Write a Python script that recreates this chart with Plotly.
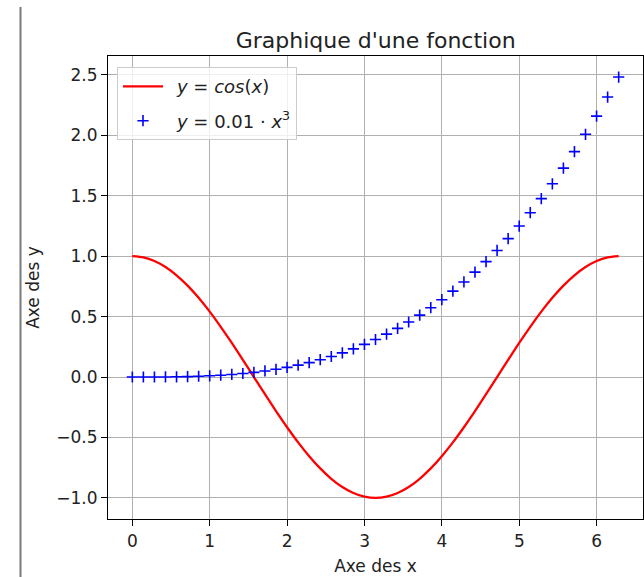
import plotly.graph_objects as go

# x samples (0 .. 2*pi, 45 points)
x_vals = [0.0000, 0.1428, 0.2856, 0.4284, 0.5712, 0.7140, 0.8568, 0.9996, 1.1424,
          1.2852, 1.4280, 1.5708, 1.7136, 1.8564, 1.9992, 2.1420, 2.2848, 2.4276,
          2.5704, 2.7132, 2.8560, 2.9988, 3.1416, 3.2844, 3.4272, 3.5700, 3.7128,
          3.8556, 3.9984, 4.1412, 4.2840, 4.4268, 4.5696, 4.7124, 4.8552, 4.9980,
          5.1408, 5.2836, 5.4264, 5.5692, 5.7120, 5.8548, 5.9976, 6.1404, 6.2832]

cos_vals = [1.0000, 0.9898, 0.9595, 0.9096, 0.8413, 0.7557, 0.6549, 0.5406, 0.4154,
            0.2817, 0.1423, 0.0000, -0.1423, -0.2817, -0.4154, -0.5406, -0.6549, -0.7557,
            -0.8413, -0.9096, -0.9595, -0.9898, -1.0000, -0.9898, -0.9595, -0.9096, -0.8413,
            -0.7557, -0.6549, -0.5406, -0.4154, -0.2817, -0.1423, 0.0000, 0.1423, 0.2817,
            0.4154, 0.5406, 0.6549, 0.7557, 0.8413, 0.9096, 0.9595, 0.9898, 1.0000]

cube_vals = [0.0000, 0.0000, 0.0002, 0.0008, 0.0019, 0.0036, 0.0063, 0.0100, 0.0149,
             0.0212, 0.0291, 0.0388, 0.0503, 0.0640, 0.0799, 0.0983, 0.1193, 0.1431,
             0.1698, 0.1997, 0.2330, 0.2697, 0.3101, 0.3543, 0.4026, 0.4550, 0.5118,
             0.5732, 0.6392, 0.7102, 0.7862, 0.8675, 0.9542, 1.0465, 1.1445, 1.2485,
             1.3586, 1.4750, 1.5979, 1.7273, 1.8637, 2.0069, 2.1574, 2.3152, 2.4805]

x_ticks = [0, 1, 2, 3, 4, 5, 6]
y_ticks = [-1.0, -0.5, 0.0, 0.5, 1.0, 1.5, 2.0, 2.5]
y_tick_text = ["\u22121.0", "\u22120.5", "0.0", "0.5", "1.0", "1.5", "2.0", "2.5"]

title_text = "Graphique d'une fonction"
x_label = "Axe des x"
y_label = "Axe des y"
name_cos = "\u2002<i>y</i> = <i>cos</i>(<i>x</i>)"
name_cube = "\u2002<i>y</i> = 0.01 \u00b7 <i>x</i><sup>3</sup>"

FONT = "DejaVu Sans"

fig = go.Figure()
fig.add_trace(go.Scatter(x=x_vals, y=cos_vals, mode="lines", name=name_cos,
                         line=dict(color="#ff0000", width=2.3, shape="spline", smoothing=0.6),
                         legendgroup="a"))
fig.add_trace(go.Scatter(x=x_vals, y=cube_vals, mode="markers", name=name_cube,
                         marker=dict(symbol="cross-thin", size=8, color="#0000ff",
                                     line=dict(color="#0000ff", width=1.6)),
                         legendgroup="b"))

axis_common = dict(showline=True, linecolor="black", linewidth=1.2, mirror=True,
                   ticks="outside", ticklen=6, tickwidth=1.2, tickcolor="black",
                   showgrid=True, gridcolor="#b0b0b0", gridwidth=1, zeroline=False,
                   tickfont=dict(family=FONT, size=17, color="#222222"))

fig.update_layout(
    width=644, height=577,
    margin=dict(l=108, r=1, t=56, b=58),
    paper_bgcolor="white", plot_bgcolor="white",
    font=dict(family=FONT, size=17, color="#222222"),
    title=dict(text=title_text, x=0.5834, xanchor="center", xref="container",
               y=1 - 40 / 577, yanchor="middle", yref="container",
               font=dict(family=FONT, size=22, color="#222222")),
    xaxis=dict(range=[-0.3142, 6.5974], tickvals=x_ticks,
               title=dict(text=x_label, standoff=10, font=dict(family=FONT, size=17)),
               **axis_common),
    yaxis=dict(range=[-1.174, 2.6545], tickvals=y_ticks, ticktext=y_tick_text,
               title=dict(text=y_label, standoff=12, font=dict(family=FONT, size=17)),
               **axis_common),
    legend=dict(x=0.0168, y=0.976, xanchor="left", yanchor="top",
                bgcolor="rgba(255,255,255,0.8)", bordercolor="#cccccc", borderwidth=1,
                font=dict(family=FONT, size=18, color="#222222"),
                itemwidth=40, tracegroupgap=8),
    showlegend=True,
    shapes=[dict(type="line", xref="paper", yref="paper",
                 x0=(20.5 - 108) / 535, x1=(20.5 - 108) / 535,
                 y0=(519 - 7) / 463, y1=(519 - 577) / 463,
                 line=dict(color="#7a7a7a", width=2))],
)

fig.write_html("out.html")
